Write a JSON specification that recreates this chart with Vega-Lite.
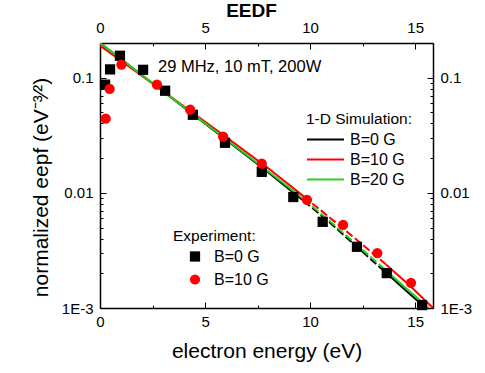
{
  "$schema": "https://vega.github.io/schema/vega-lite/v6.json",
  "width": 333,
  "height": 265,
  "autosize": {"type": "none"},
  "padding": {"left": 100, "top": 43, "right": 52, "bottom": 65},
  "background": "white",
  "config": {
    "font": "Liberation Sans",
    "view": {"stroke": null},
    "text": {"font": "Liberation Sans"},
    "legend": {"labelFont": "Liberation Sans", "titleFont": "Liberation Sans"},
    "axis": {"grid": false, "domainColor": "black", "domainWidth": 1.5, "tickColor": "black", "tickWidth": 1, "labelColor": "black", "titleColor": "black", "labelFontSize": 15, "labelFlush": false, "labelOverlap": false, "labelFont": "Liberation Sans", "titleFont": "Liberation Sans"}
  },
  "datasets": {
    "sim": [
      {"energy": 0, "eepf": 0.2, "series": "B=0 G", "part": "a"},
      {"energy": 2, "eepf": 0.105, "series": "B=0 G", "part": "a"},
      {"energy": 4, "eepf": 0.0551, "series": "B=0 G", "part": "a"},
      {"energy": 6, "eepf": 0.0289, "series": "B=0 G", "part": "a"},
      {"energy": 8, "eepf": 0.0151, "series": "B=0 G", "part": "a"},
      {"energy": 9.7, "eepf": 0.0085, "series": "B=0 G", "part": "a"},
      {"energy": 9.7, "eepf": 0.0085, "series": "B=0 G", "part": "b"},
      {"energy": 11, "eepf": 0.0054, "series": "B=0 G", "part": "b"},
      {"energy": 12, "eepf": 0.0037, "series": "B=0 G", "part": "b"},
      {"energy": 13.6, "eepf": 0.00204, "series": "B=0 G", "part": "b"},
      {"energy": 13.6, "eepf": 0.00204, "series": "B=0 G", "part": "c"},
      {"energy": 14.5, "eepf": 0.00145, "series": "B=0 G", "part": "c"},
      {"energy": 15.5, "eepf": 0.001, "series": "B=0 G", "part": "c"},
      {"energy": 0, "eepf": 0.19, "series": "B=10 G", "part": "a"},
      {"energy": 2, "eepf": 0.1035, "series": "B=10 G", "part": "a"},
      {"energy": 4, "eepf": 0.0562, "series": "B=10 G", "part": "a"},
      {"energy": 6, "eepf": 0.0305, "series": "B=10 G", "part": "a"},
      {"energy": 8, "eepf": 0.0164, "series": "B=10 G", "part": "a"},
      {"energy": 9.7, "eepf": 0.0093, "series": "B=10 G", "part": "a"},
      {"energy": 9.7, "eepf": 0.0093, "series": "B=10 G", "part": "b"},
      {"energy": 11, "eepf": 0.00596, "series": "B=10 G", "part": "b"},
      {"energy": 12, "eepf": 0.00422, "series": "B=10 G", "part": "b"},
      {"energy": 13.6, "eepf": 0.0024, "series": "B=10 G", "part": "b"},
      {"energy": 13.6, "eepf": 0.0024, "series": "B=10 G", "part": "c"},
      {"energy": 14.8, "eepf": 0.00153, "series": "B=10 G", "part": "c"},
      {"energy": 15.85, "eepf": 0.001, "series": "B=10 G", "part": "c"},
      {"energy": 0, "eepf": 0.2, "series": "B=20 G", "part": "a"},
      {"energy": 2, "eepf": 0.105, "series": "B=20 G", "part": "a"},
      {"energy": 4, "eepf": 0.0553, "series": "B=20 G", "part": "a"},
      {"energy": 6, "eepf": 0.0292, "series": "B=20 G", "part": "a"},
      {"energy": 8, "eepf": 0.0154, "series": "B=20 G", "part": "a"},
      {"energy": 9.7, "eepf": 0.0088, "series": "B=20 G", "part": "a"},
      {"energy": 9.7, "eepf": 0.0088, "series": "B=20 G", "part": "b"},
      {"energy": 11, "eepf": 0.00555, "series": "B=20 G", "part": "b"},
      {"energy": 12, "eepf": 0.00385, "series": "B=20 G", "part": "b"},
      {"energy": 13.6, "eepf": 0.00213, "series": "B=20 G", "part": "b"},
      {"energy": 13.6, "eepf": 0.00213, "series": "B=20 G", "part": "c"},
      {"energy": 14.5, "eepf": 0.00152, "series": "B=20 G", "part": "c"},
      {"energy": 15.65, "eepf": 0.001, "series": "B=20 G", "part": "c"}
    ],
    "exp": [
      {"energy": 0.24, "eepf": 0.087, "series": "B=0 G"},
      {"energy": 0.48, "eepf": 0.118, "series": "B=0 G"},
      {"energy": 0.95, "eepf": 0.155, "series": "B=0 G"},
      {"energy": 2.05, "eepf": 0.117, "series": "B=0 G"},
      {"energy": 3.1, "eepf": 0.077, "series": "B=0 G"},
      {"energy": 4.42, "eepf": 0.0476, "series": "B=0 G"},
      {"energy": 5.95, "eepf": 0.0272, "series": "B=0 G"},
      {"energy": 7.7, "eepf": 0.0152, "series": "B=0 G"},
      {"energy": 9.2, "eepf": 0.0092, "series": "B=0 G"},
      {"energy": 10.6, "eepf": 0.0056, "series": "B=0 G"},
      {"energy": 12.23, "eepf": 0.0034, "series": "B=0 G"},
      {"energy": 13.65, "eepf": 0.00201, "series": "B=0 G"},
      {"energy": 15.33, "eepf": 0.00106, "series": "B=0 G"},
      {"energy": 0.27, "eepf": 0.044, "series": "B=10 G"},
      {"energy": 0.46, "eepf": 0.08, "series": "B=10 G"},
      {"energy": 1.02, "eepf": 0.13, "series": "B=10 G"},
      {"energy": 2.71, "eepf": 0.087, "series": "B=10 G"},
      {"energy": 4.29, "eepf": 0.0527, "series": "B=10 G"},
      {"energy": 5.86, "eepf": 0.0307, "series": "B=10 G"},
      {"energy": 7.7, "eepf": 0.0179, "series": "B=10 G"},
      {"energy": 9.85, "eepf": 0.0087, "series": "B=10 G"},
      {"energy": 11.57, "eepf": 0.00527, "series": "B=10 G"},
      {"energy": 13.2, "eepf": 0.003, "series": "B=10 G"},
      {"energy": 14.8, "eepf": 0.00165, "series": "B=10 G"}
    ],
    "note": [
      {"energy": 2.76, "eepf": 0.125, "label": "29 MHz, 10 mT, 200W"}
    ]
  },
  "layer": [
    {
      "data": {"name": "sim"},
      "mark": {"type": "line", "clip": true, "strokeCap": "butt"},
      "encoding": {
        "x": {"field": "energy", "type": "quantitative", "scale": {"domain": [0, 15.85], "nice": false, "zero": false},
          "axis": {"orient": "bottom", "values": [0, 2.5, 5, 7.5, 10, 12.5, 15],
            "labelExpr": "datum.value % 5 == 0 ? datum.label : ''",
            "tickSize": {"condition": {"test": "datum.value % 5 == 0", "value": -6}, "value": -3},
            "labelPadding": 12,
            "title": "electron energy (eV)", "titleFontSize": 21, "titleFontWeight": "normal", "titleY": 49, "titleBaseline": "alphabetic"}},
        "y": {"field": "eepf", "type": "quantitative", "scale": {"type": "log", "domain": [0.001, 0.2], "nice": false},
          "axis": {"orient": "left",
            "values": [0.001, 0.002, 0.003, 0.004, 0.005, 0.006, 0.007, 0.008, 0.009, 0.01, 0.02, 0.03, 0.04, 0.05, 0.06, 0.07, 0.08, 0.09, 0.1, 0.2],
            "labelExpr": "datum.value == 0.1 ? '0.1' : datum.value == 0.01 ? '0.01' : datum.value == 0.001 ? '1E-3' : ''",
            "tickSize": {"condition": {"test": "datum.value == 0.1 || datum.value == 0.01 || datum.value == 0.001", "value": -6}, "value": -3},
            "labelPadding": 13,
            "title": "normalized eepf (eV⁻³⁄²)", "titleFontSize": 21, "titleFontWeight": "normal",
            "titleX": -53, "titleY": 144, "titleBaseline": "alphabetic", "titleAngle": 270}},
        "stroke": {"field": "series", "type": "nominal",
          "scale": {"domain": ["B=0 G", "B=10 G", "B=20 G"], "range": ["#000000", "#ff0000", "#22d022"]},
          "legend": {"orient": "none", "legendX": 206, "legendY": 69, "title": "1-D Simulation:", "titleFontSize": 15.5, "titleFontWeight": "normal", "titleColor": "black", "titlePadding": 4, "titleLimit": 300,
            "labelFontSize": 16, "labelColor": "black", "symbolType": "stroke", "symbolSize": 1369, "symbolStrokeWidth": 2, "labelOffset": 5, "rowPadding": 4, "clipHeight": 16}},
        "strokeWidth": {"field": "series", "type": "ordinal", "scale": {"domain": ["B=0 G", "B=10 G", "B=20 G"], "range": [2, 2, 1.3]}, "legend": null},
        "strokeDash": {"field": "part", "type": "nominal", "scale": {"domain": ["a", "b", "c"], "range": [[1, 0], [8, 3], [1, 0]]}, "legend": null},
        "order": {"field": "energy", "type": "quantitative"}
      }
    },
    {
      "data": {"name": "exp"},
      "mark": {"type": "point", "filled": true, "size": 105, "opacity": 1, "strokeWidth": 0},
      "encoding": {
        "x": {"field": "energy", "type": "quantitative", "scale": {"domain": [0, 15.85], "nice": false, "zero": false},
          "axis": {"orient": "top", "values": [0, 2.5, 5, 7.5, 10, 12.5, 15],
            "labelExpr": "datum.value % 5 == 0 ? datum.label : ''",
            "tickSize": {"condition": {"test": "datum.value % 5 == 0", "value": -6}, "value": -3},
            "labelPadding": 14,
            "title": "EEDF", "titleFontSize": 19, "titleFontWeight": "bold", "titleX": 151, "titleY": -27, "titleBaseline": "alphabetic", "titleAlign": "center"}},
        "y": {"field": "eepf", "type": "quantitative", "scale": {"type": "log", "domain": [0.001, 0.2], "nice": false},
          "axis": {"orient": "right",
            "values": [0.001, 0.002, 0.003, 0.004, 0.005, 0.006, 0.007, 0.008, 0.009, 0.01, 0.02, 0.03, 0.04, 0.05, 0.06, 0.07, 0.08, 0.09, 0.1, 0.2],
            "labelExpr": "datum.value == 0.1 ? '0.1' : datum.value == 0.01 ? '0.01' : datum.value == 0.001 ? '1E-3' : ''",
            "tickSize": {"condition": {"test": "datum.value == 0.1 || datum.value == 0.01 || datum.value == 0.001", "value": -6}, "value": -3},
            "labelPadding": 13, "title": null}},
        "shape": {"field": "series", "type": "nominal",
          "scale": {"domain": ["B=0 G", "B=10 G"], "range": ["square", "circle"]},
          "legend": {"orient": "none", "legendX": 73, "legendY": 186, "title": "Experiment:", "titleFontSize": 15.5, "titleFontWeight": "normal", "titleColor": "black", "titlePadding": 4,
            "labelFontSize": 16, "labelColor": "black", "symbolSize": 105, "symbolOffset": 14, "labelOffset": 11, "rowPadding": 7, "symbolStrokeWidth": 0}},
        "fill": {"field": "series", "type": "nominal",
          "scale": {"domain": ["B=0 G", "B=10 G"], "range": ["#000000", "#ff0000"]},
          "legend": {"orient": "none", "legendX": 73, "legendY": 186, "title": "Experiment:", "titleFontSize": 15.5, "titleFontWeight": "normal", "titleColor": "black", "titlePadding": 4,
            "labelFontSize": 16, "labelColor": "black", "symbolSize": 105, "symbolOffset": 14, "labelOffset": 11, "rowPadding": 7, "symbolStrokeWidth": 0}}
      }
    },
    {
      "data": {"name": "note"},
      "mark": {"type": "text", "align": "left", "baseline": "middle", "fontSize": 16.5, "color": "black", "font": "Liberation Sans"},
      "encoding": {
        "x": {"field": "energy", "type": "quantitative", "scale": {"domain": [0, 15.85], "nice": false, "zero": false}, "axis": null},
        "y": {"field": "eepf", "type": "quantitative", "scale": {"type": "log", "domain": [0.001, 0.2], "nice": false}, "axis": null},
        "text": {"field": "label"}
      }
    }
  ],
  "resolve": {"axis": {"x": "independent", "y": "independent"}}
}
